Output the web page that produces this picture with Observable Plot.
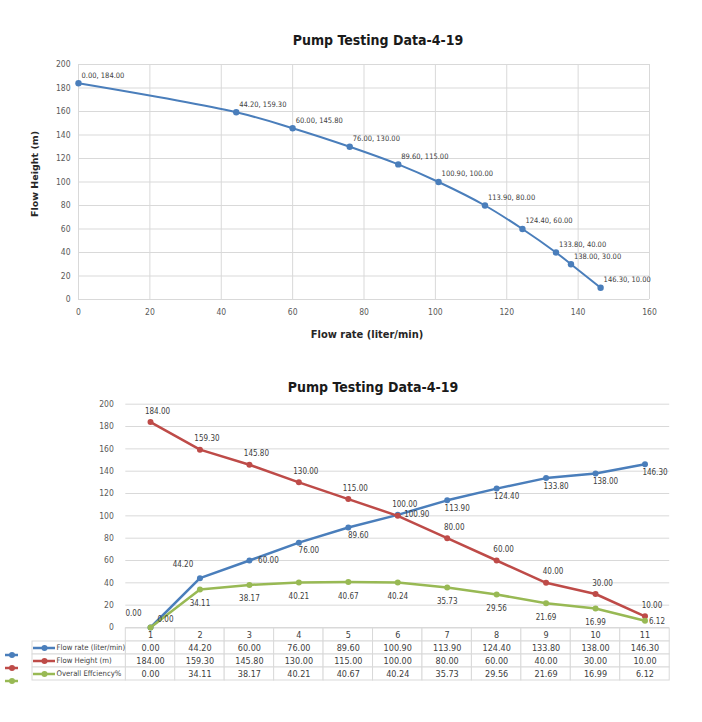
<!DOCTYPE html>
<html><head><meta charset="utf-8">
<script src="https://cdn.jsdelivr.net/npm/d3@7"></script>
<script src="https://cdn.jsdelivr.net/npm/@observablehq/plot@0.6"></script>
<style>
body{margin:0;background:#fff;}
#root{position:relative;width:702px;height:722px;overflow:hidden;background:#fff;font-family:"DejaVu Sans Condensed","Liberation Sans",sans-serif;}
.abs{position:absolute;white-space:nowrap;}
.title{font-weight:bold;font-size:14px;color:#1a1a1a;transform:translate(-50%,-50%);}
.axt{font-weight:bold;font-size:11px;color:#262626;transform:translate(-50%,-50%);}
svg{overflow:visible;}
</style></head><body><div id="root"></div>
<script>
// ---- data ----
const testNo = [1, 2, 3, 4, 5, 6, 7, 8, 9, 10, 11];
const flowRate = [0.00, 44.20, 60.00, 76.00, 89.60, 100.90, 113.90, 124.40, 133.80, 138.00, 146.30];
const flowHeight = [184.00, 159.30, 145.80, 130.00, 115.00, 100.00, 80.00, 60.00, 40.00, 30.00, 10.00];
const efficiency = [0.00, 34.11, 38.17, 40.21, 40.67, 40.24, 35.73, 29.56, 21.69, 16.99, 6.12];
const xTicksTop = [0, 20, 40, 60, 80, 100, 120, 140, 160];
const yTicks = [0, 20, 40, 60, 80, 100, 120, 140, 160, 180, 200];
const seriesNames = ["Flow rate (liter/min)", "Flow Height (m)", "Overall Effciency%"];
const chartTitle = "Pump Testing Data-4-19";
const xTitle = "Flow rate (liter/min)";
const yTitle = "Flow Height (m)";

// ---- styles ----
const FONT = '"DejaVu Sans Condensed","Liberation Sans",sans-serif';
const BLUE = "#4a7ebb", RED = "#be4b48", GREEN = "#98b954";
const GRID = "#d9d9d9", TXT = "#404040", TICK = "#595959";
const root = document.getElementById("root");

function addDiv(cls, text, left, top, extra) {
  const d = document.createElement("div");
  d.className = "abs " + cls;
  d.textContent = text;
  d.style.left = left + "px";
  d.style.top = top + "px";
  if (extra) Object.assign(d.style, extra);
  root.appendChild(d);
}
function place(svg, top) {
  svg.style.position = "absolute";
  svg.style.left = "0px";
  svg.style.top = top + "px";
  root.appendChild(svg);
}

// ---- top chart ----
const pts = flowRate.map((x, i) => ({x, y: flowHeight[i]}));
const topChart = Plot.plot({
  width: 702, height: 350,
  marginLeft: 78, marginRight: 53, marginTop: 64, marginBottom: 51,
  style: {background: "transparent", fontFamily: FONT, fontSize: "8.5px", color: TICK},
  x: {domain: [0, 160]},
  y: {domain: [0, 200]},
  marks: [
    Plot.gridX(xTicksTop, {stroke: GRID, strokeOpacity: 1}),
    Plot.gridY(yTicks, {stroke: GRID, strokeOpacity: 1}),
    Plot.axisX(xTicksTop, {tickSize: 0, tickPadding: 9, label: null, fill: TICK}),
    Plot.axisY(yTicks, {tickSize: 0, tickPadding: 8, label: null, fill: TICK}),
    Plot.line(pts, {x: "x", y: "y", stroke: BLUE, strokeWidth: 2, curve: "catmull-rom"}),
    Plot.dot(pts, {x: "x", y: "y", r: 3.2, fill: BLUE}),
    Plot.text(pts, {x: "x", y: "y", text: d => `${d.x.toFixed(2)}, ${d.y.toFixed(2)}`,
      textAnchor: "start", dx: 3, dy: -8, fontSize: 7.5, fill: TXT})
  ]
});
place(topChart, 0);
addDiv("title", chartTitle, 378, 40);
addDiv("axt", xTitle, 367, 334);
addDiv("axt", yTitle, 34, 174, {transform: "translate(-50%,-50%) rotate(-90deg)", fontFamily: '"DejaVu Sans",sans-serif', fontSize: "9.5px"});

// ---- bottom chart ----
const rows = testNo.map((t, i) => ({t, rate: flowRate[i], height: flowHeight[i], eff: efficiency[i], i}));
const last = rows.length - 1;
const f2 = v => v.toFixed(2);
const L = 125.3, R = 669.2;
const colW = (R - L) / 11;
const X = px => 0.5 + (px - L) / colW; // pixel -> column units (layout helper)
const LBL = 8;

const bottomChart = Plot.plot({
  width: 702, height: 277,
  marginLeft: L, marginRight: 702 - R, marginTop: 43.7, marginBottom: 10,
  style: {background: "transparent", fontFamily: FONT, fontSize: "8.5px", color: TICK},
  x: {domain: [0.5, 11.5], axis: null},
  y: {domain: [0, 200], axis: null},
  marks: [
    Plot.gridY(yTicks, {stroke: GRID, strokeOpacity: 1}),
    Plot.axisY(yTicks, {tickSize: 0, tickPadding: 12, label: null, fill: TICK}),
    Plot.line(rows, {x: "t", y: "rate", stroke: BLUE, strokeWidth: 2.5}),
    Plot.dot(rows, {x: "t", y: "rate", r: 3, fill: BLUE}),
    Plot.line(rows, {x: "t", y: "height", stroke: RED, strokeWidth: 2.5}),
    Plot.dot(rows, {x: "t", y: "height", r: 3, fill: RED}),
    Plot.line(rows, {x: "t", y: "eff", stroke: GREEN, strokeWidth: 2.5}),
    Plot.dot(rows, {x: "t", y: "eff", r: 3, fill: GREEN}),
    // labels
    Plot.text(rows, {x: "t", y: "height", text: d => f2(d.height), dx: 7, dy: -11, fontSize: LBL, fill: TXT}),
    Plot.text(rows, {filter: d => d.i < 2, x: "t", y: "rate", text: d => f2(d.rate), dx: -17, dy: -14, fontSize: LBL, fill: TXT}),
    Plot.text(rows, {filter: d => d.i === 2 || d.i === 5, x: "t", y: "rate", text: d => f2(d.rate), dx: 19, dy: 0, fontSize: LBL, fill: TXT}),
    Plot.text(rows, {filter: d => d.i > 2 && d.i !== 5, x: "t", y: "rate", text: d => f2(d.rate), dx: 10, dy: 8, fontSize: LBL, fill: TXT}),
    Plot.text(rows, {filter: d => d.i === 0, x: "t", y: "eff", text: d => f2(d.eff), dx: 15, dy: -8, fontSize: LBL, fill: TXT}),
    Plot.text(rows, {filter: d => d.i > 0 && d.i < last, x: "t", y: "eff", text: d => f2(d.eff), dx: 0, dy: 14, fontSize: LBL, fill: TXT}),
    Plot.text(rows, {filter: d => d.i === last, x: "t", y: "eff", text: d => f2(d.eff), dx: 12, dy: 1, fontSize: LBL, fill: TXT})
  ]
});

// ---- data table under bottom chart ----
const rowKeys = ["n", "rate", "height", "eff"];
const cells = [];
rows.forEach(r => {
  cells.push({t: r.t, row: "n", text: String(r.t)});
  cells.push({t: r.t, row: "rate", text: f2(r.rate)});
  cells.push({t: r.t, row: "height", text: f2(r.height)});
  cells.push({t: r.t, row: "eff", text: f2(r.eff)});
});
const legendRows = [
  {row: "rate", name: seriesNames[0], color: BLUE},
  {row: "height", name: seriesNames[1], color: RED},
  {row: "eff", name: seriesNames[2], color: GREEN}
];
const tableChart = Plot.plot({
  width: 702, height: 80,
  marginLeft: L, marginRight: 702 - R, marginTop: 7, marginBottom: 80 - 7 - 53.3,
  style: {background: "transparent", fontFamily: FONT, fontSize: "9px", color: TXT},
  x: {domain: [0.5, 11.5], axis: null},
  y: {domain: rowKeys, axis: null, padding: 0},
  marks: [
    Plot.barX(cells, {x1: d => d.t - 0.5, x2: d => d.t + 0.5, y: "row", fill: "white", stroke: GRID, strokeWidth: 1}),
    Plot.barX(legendRows, {x1: X(32), x2: 0.5, y: "row", fill: "white", stroke: GRID, strokeWidth: 1}),
    Plot.text(cells, {x: "t", y: "row", text: "text", fontSize: 9, fill: TXT}),
    Plot.ruleY(legendRows, {y: "row", x1: X(33), x2: X(55), stroke: "color", strokeWidth: 2.5}),
    Plot.dot(legendRows, {x: X(44), y: "row", r: 3, fill: "color"}),
    Plot.text(legendRows, {x: X(56), y: "row", text: "name", textAnchor: "start", fontSize: 7.7, fill: TXT}),
    Plot.ruleY(legendRows, {y: "row", x1: X(5), x2: X(18), dy: 7, stroke: "color", strokeWidth: 2.5}),
    Plot.dot(legendRows, {x: X(11.5), y: "row", dy: 7, r: 3, fill: "color"})
  ]
});
place(tableChart, 620);
place(bottomChart, 360);
addDiv("title", chartTitle, 373, 387);
</script>
</body></html>
